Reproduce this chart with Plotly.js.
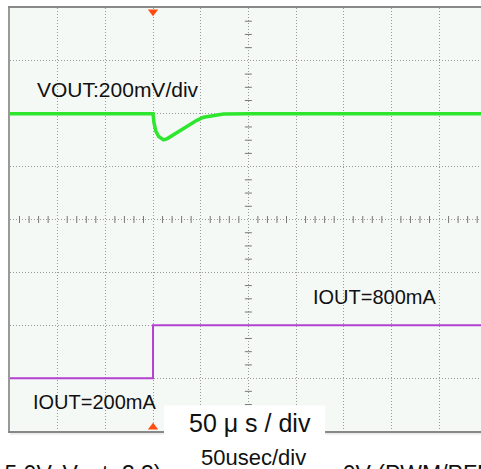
<!DOCTYPE html>
<html>
<head>
<meta charset="utf-8">
<script src="https://cdn.plot.ly/plotly-3.0.1.min.js"></script>
<style>
  html, body { margin: 0; padding: 0; background: #ffffff; overflow: hidden; }
  #chart { width: 481px; height: 469px; }
</style>
</head>
<body>
<div id="chart"></div>
<script>
// ---- data ----
// time axis in microseconds (50 us / div), trigger at 150 us
const voutTime = [0, 150, 151, 153, 156, 159, 161, 165, 170, 175, 182, 189, 196, 203, 213, 224, 250, 494];
// VOUT deviation in mV (200 mV / div)
const voutDev  = [0, 0, -34, -67, -86, -96, -99, -94, -83, -71, -54, -39, -25, -13, -6, -1, 0, 0];
// IOUT step in mA
const ioutTime = [0, 150, 494];
const ioutMA   = [200, 800, 800];
const triggerTime = 150;

// screen placement of the two channels (in divisions)
const voutOffsetDiv = 2, voutScale = 200;   // mV per div
const ioutOffsetDiv = -3, ioutBase = 200, ioutScale = 600; // mA per div

const voutY = voutDev.map(v => voutOffsetDiv + v / voutScale);
const ioutY = ioutMA.map(i => ioutOffsetDiv + (i - ioutBase) / ioutScale);

// crosshair minor ticks
const hTickX = [], hTickY = [];
for (let t = 0; t <= 494; t += 10) { if (t % 50 !== 0) { hTickX.push(t); hTickY.push(0); } }
const vTickX = [], vTickY = [];
for (let d = -4; d <= 4; d += 0.25) { if (Math.abs(d - Math.round(d)) > 1e-6) { vTickX.push(250); vTickY.push(d); } }

const FONT = 'Liberation Sans, Arial, sans-serif';

const traces = [
  { x: hTickX, y: hTickY, mode: 'markers', type: 'scatter', hoverinfo: 'skip',
    marker: { symbol: 'line-ns', size: 5, line: { color: '#777', width: 1 } } },
  { x: vTickX, y: vTickY, mode: 'markers', type: 'scatter', hoverinfo: 'skip',
    marker: { symbol: 'line-ew', size: 5, line: { color: '#777', width: 1 } } },
  { x: voutTime, y: voutY, mode: 'lines', type: 'scatter',
    line: { color: '#2ee62e', width: 3.5, shape: 'linear' } },
  { x: ioutTime, y: ioutY, mode: 'lines', type: 'scatter',
    line: { color: '#b440d0', width: 2, shape: 'hv' } },
  { x: [triggerTime], y: [3.93], mode: 'markers', type: 'scatter', cliponaxis: false,
    marker: { symbol: 'triangle-down', size: 9, color: '#ff4a10' } },
  { x: [triggerTime], y: [-3.93], mode: 'markers', type: 'scatter', cliponaxis: false,
    marker: { symbol: 'triangle-up', size: 9, color: '#ff4a10' } }
];

const layout = {
  width: 481, height: 469,
  margin: { l: 10, r: 0, t: 8, b: 38, pad: 0 },
  paper_bgcolor: '#ffffff',
  plot_bgcolor: '#f5f9f6',
  showlegend: false,
  xaxis: {
    range: [0, 494], dtick: 50, tick0: 0, showticklabels: false, ticks: '',
    showgrid: true, gridcolor: '#999', gridwidth: 1, griddash: '1px,2px',
    zeroline: false, showline: true, mirror: true, linecolor: '#888', linewidth: 2,
    fixedrange: true
  },
  yaxis: {
    range: [-4, 4], dtick: 1, tick0: 0, showticklabels: false, ticks: '',
    showgrid: true, gridcolor: '#999', gridwidth: 1, griddash: '1px,2px',
    zeroline: false, showline: true, mirror: false, linecolor: '#999', linewidth: 2,
    fixedrange: true
  },
  shapes: [
    { type: 'rect', xref: 'paper', yref: 'paper', x0: 0, x1: 1, y0: -0.009, y1: -0.002,
      fillcolor: '#ececec', line: { width: 0 }, layer: 'below' },
    { type: 'rect', xref: 'paper', yref: 'paper', x0: 0.327, x1: 0.669, y0: -0.12, y1: 0.06,
      fillcolor: '#ffffff', line: { width: 0 }, layer: 'above' }
  ],
  annotations: [
    { text: 'VOUT:200mV/div', x: 26, y: 2.45, xref: 'x', yref: 'y', xanchor: 'left', yanchor: 'middle',
      showarrow: false, font: { family: FONT, size: 21, color: '#111' } },
    { text: 'IOUT=800mA', x: 316, y: -1.47, xref: 'x', yref: 'y', xanchor: 'left', yanchor: 'middle',
      showarrow: false, font: { family: FONT, size: 20, color: '#111' } },
    { text: 'IOUT=200mA', x: 22, y: -3.45, xref: 'x', yref: 'y', xanchor: 'left', yanchor: 'middle',
      showarrow: false, font: { family: FONT, size: 20, color: '#111' } },
    { text: '50 μ s / div', x: 0.5096, y: 0.018, xref: 'paper', yref: 'paper', xanchor: 'center', yanchor: 'middle',
      showarrow: false, font: { family: FONT, size: 25, color: '#111' } },
    { text: '50usec/div', x: 0.516, y: -0.063, xref: 'paper', yref: 'paper', xanchor: 'center', yanchor: 'middle',
      showarrow: false, font: { family: FONT, size: 22, color: '#111' } },
    { text: '=5.0V, Vout=3.3)', x: 0.326, y: -0.102, xref: 'paper', yref: 'paper', xanchor: 'right', yanchor: 'middle',
      showarrow: false, font: { family: FONT, size: 23, color: '#111' } },
    { text: ', 0V (PWM/PFM)', x: 0.676, y: -0.102, xref: 'paper', yref: 'paper', xanchor: 'left', yanchor: 'middle',
      showarrow: false, font: { family: FONT, size: 23, color: '#111' } }
  ]
};

Plotly.newPlot('chart', traces, layout, { staticPlot: true, displayModeBar: false });
</script>
</body>
</html>
